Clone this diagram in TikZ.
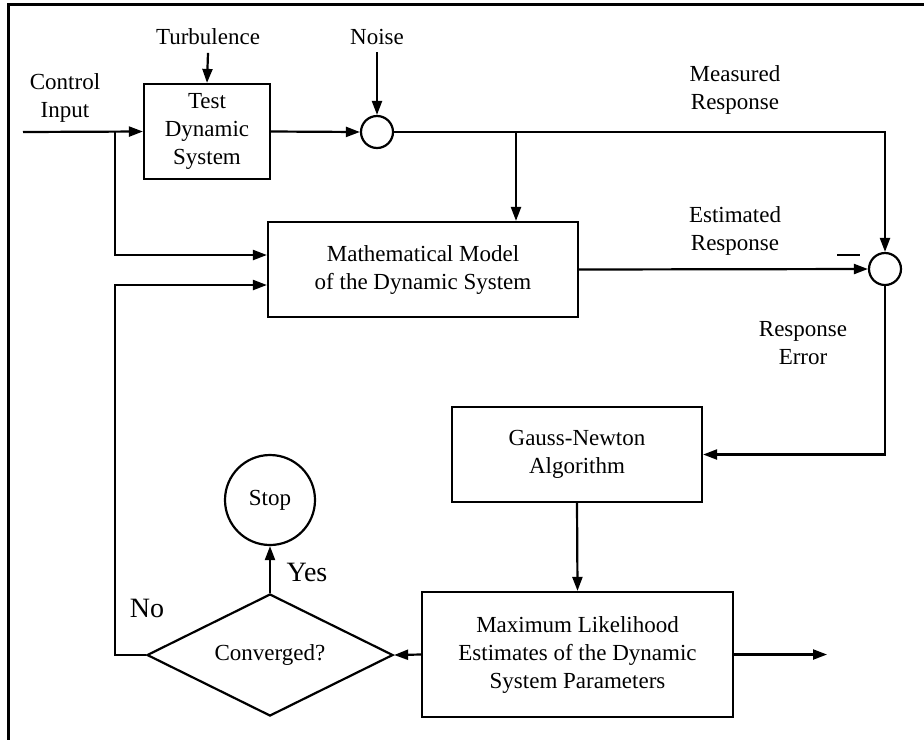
\documentclass[tikz,border=0pt]{standalone}
\usepackage{fontspec}
\setmainfont{Liberation Serif}
\usetikzlibrary{arrows.meta}
\usetikzlibrary{calc}
\usetikzlibrary{positioning}
\usetikzlibrary{shapes.geometric}

\tikzset{
    block/.style={draw, rectangle, inner sep=0pt, align=center, minimum height=47.5pt},
    junction/.style={draw, circle, inner sep=0pt, minimum size=16pt},
    lbl/.style={align=center},
    bigl/.style={font=\fontsize{14}{16}\selectfont},
    flow/.style={-{Triangle[length=7pt,width=5pt]}}
}

\begin{document}
\begin{tikzpicture}[x=0.5pt, y=-0.5pt, line width=1.1pt, font=\fontsize{11.5}{14}\selectfont]
            \useasboundingbox (0,0) rectangle (924,740);
            % Frame
            \draw[line width=1.5pt] (924,4) -- (8,4) -- (8,740);

            % Blocks
            \node[block, minimum width=63pt] (test) at (207,131.5) {Test\\Dynamic\\System};
            \node[block, minimum width=155pt] (model) at (423,269.5) {Mathematical Model\\of the Dynamic System};
            \node[block, minimum width=125pt] (gauss) at (577,454.5) {Gauss-Newton\\Algorithm};
            \node[block, minimum width=155.5pt, minimum height=62.5pt] (mle) at (577.5,654.5) {Maximum Likelihood\\Estimates of the Dynamic\\System Parameters};
            \node[draw, diamond, aspect=2, inner sep=0pt, minimum width=123pt, minimum height=61pt] (conv) at (270,655) {Converged?};
            \node[draw, circle, inner sep=0pt, minimum size=45pt] (stop) at (270,500) {Stop};

            % Junctions
            \node[junction] (sum1) at (377,132) {};
            \node[junction] (sum2) at (885,269) {};
            \draw (837,255) -- (860,255);

            % Labels
            \node[lbl] (turb) at (208,37) {Turbulence};
            \node[lbl] (noise) at (377,37) {Noise};
            \node[lbl] (ctrl) at (65,98) {Control\\Input};
            \node[lbl] (meas) at (735,90) {Measured\\Response};
            \node[lbl] (est) at (735,231) {Estimated\\Response};
            \node[lbl] (err) at (803,343) {Response\\Error};
            \node[bigl] (yes) at (307,572) {Yes};
            \node[bigl] (no) at (147,608) {No};

            % Points
            \coordinate (in) at (23,132);
            \coordinate (br) at (115,132);
            \coordinate (tap) at (516,132);
            \coordinate (out) at (827,654.5);

            % Signal path
            \draw[flow] (turb.south) -- (test.north);
            \draw[flow] (noise.south) -- (sum1.north);
            \draw[flow] (in) -- (test.west);
            \draw[flow] (test.east) -- (sum1.west);
            \draw[flow] (sum1.east) -| (sum2.north);
            \draw[flow] (tap) -- (tap |- model.north);
            \draw[flow] (br) |- ($(model.west)+(0,-14.5)$);
            \draw[flow] (model.east) -- (sum2.west);

            % Estimation loop
            \draw[flow] (sum2.south) |- (gauss.east);
            \draw[flow] (gauss.south) -- (mle.north);
            \draw[flow] (mle.east) -- (out);
            \draw[flow] (mle.west) -- (conv.east);
            \draw[flow] (conv.north) -- (stop.south);
            \draw[flow] (conv.west) -- (conv.west -| br) |- ($(model.west)+(0,15.5)$);
        \end{tikzpicture}
\end{document}
